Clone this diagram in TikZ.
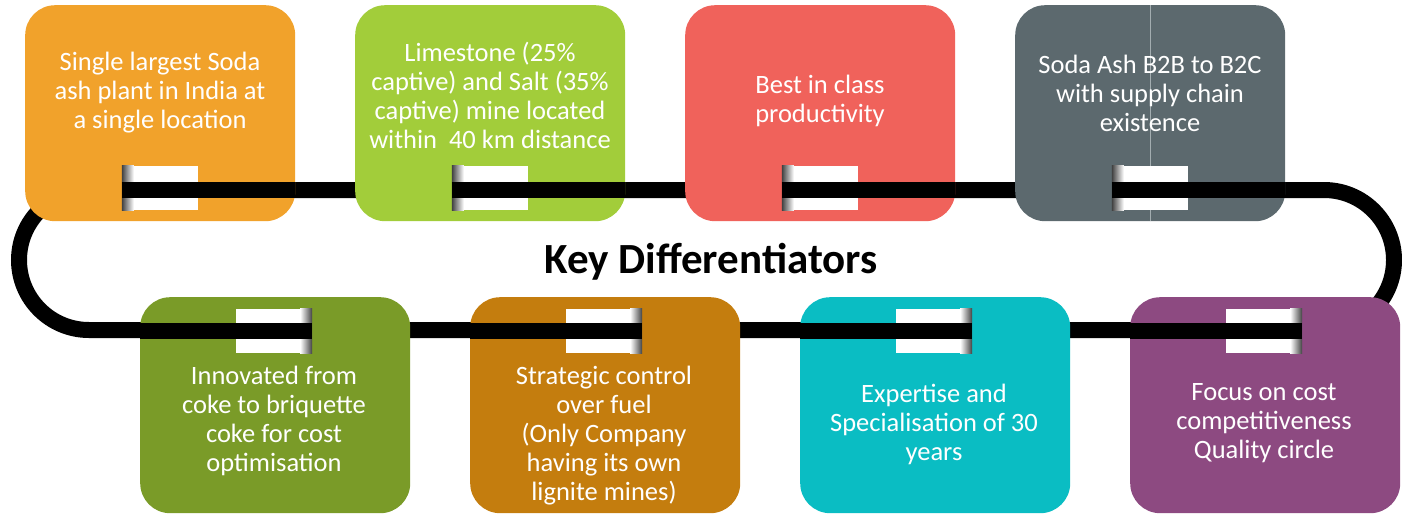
\documentclass[tikz,border=0pt]{standalone}
\usepackage{fontspec}
\setmainfont{Carlito}
\definecolor{cOrange}{HTML}{F1A22B}
\definecolor{cLime}{HTML}{A2CD3A}
\definecolor{cRed}{HTML}{F0625B}
\definecolor{cGray}{HTML}{5C696E}
\definecolor{cOlive}{HTML}{7A9B28}
\definecolor{cBrown}{HTML}{C47D0E}
\definecolor{cTeal}{HTML}{0ABDC3}
\definecolor{cPurple}{HTML}{8D4A81}
\definecolor{cSeam}{HTML}{A3ADB0}
\begin{document}
\begin{tikzpicture}[x=1pt,y=-1pt,
  card/.style={fill=#1, draw=none, rounded corners=30pt, minimum width=270pt, minimum height=216pt, inner sep=0pt, anchor=north west},
  slot/.style={fill=white, draw=none, minimum width=76pt, minimum height=44pt, inner sep=0pt},
  track/.style={draw=black, line width=16pt},
  txt/.style={text=white, align=center, font=\fontsize{26.5}{29}\selectfont, inner sep=0pt}
]
\useasboundingbox (0,0) rectangle (1402,515);
% base track
\draw[track, rounded corners=70pt] (19,190) rectangle (1394,330);

% ---- top row ----
\node[card=cOrange] (b1) at (25,5) {};
\node[card=cLime]   (b2) at (355,5) {};
\node[card=cRed]    (b3) at (685,5) {};
\node[card=cGray]   (b4) at (1015,5) {};
\draw[cSeam, line width=1pt] (b4.north -| 1150,0) -- (b4.south -| 1150,0);

\foreach \i/\x in {1/160,2/490,3/820,4/1150}{
  \node[slot] (s\i) at (\x,188) {};
  \shade[left color=black!75, right color=white] (s\i.north west) rectangle ([xshift=12pt]s\i.south west);
}
\draw[track] ([yshift=-2pt]s1.west) -- ([yshift=-2pt]s1.west -| b1.east);
\draw[track] ([yshift=-2pt]s2.west) -- ([yshift=-2pt]s2.west -| b2.east);
\draw[track] ([yshift=-2pt]s3.west) -- ([yshift=-2pt]s3.west -| b3.east);
\draw[track] ([yshift=-2pt]s4.west) -- ([yshift=-2pt]s4.west -| b4.east);

% ---- bottom row ----
\node[card=cOlive]  (b5) at (140,297) {};
\node[card=cBrown]  (b6) at (470,297) {};
\node[card=cTeal]   (b7) at (800,297) {};
\node[card=cPurple] (b8) at (1130,297) {};

\foreach \i/\x in {5/274,6/604,7/934,8/1264}{
  \node[slot] (s\i) at (\x,331) {};
  \shade[left color=white, right color=black!75] ([xshift=-12pt]s\i.north east) rectangle (s\i.south east);
}
\draw[track] (s5.east -| b5.west) -- (s5.east);
\draw[track] (s6.east -| b6.west) -- (s6.east);
\draw[track] (s7.east -| b7.west) -- (s7.east);
\draw[track] (s8.east -| b8.west) -- (s8.east);

% ---- texts ----
\node[txt] (t1) at (160,93) {Single largest Soda\\ash plant in India at\\a single location};
\node[txt] (t2) at (490,95) {Limestone (25\%\\captive) and Salt (35\%\\captive) mine located\\within\ \ 40 km distance};
\node[txt] (t3) at (820,101) {Best in class\\productivity};
\node[txt] (t4) at (1150,93) {Soda Ash B2B to B2C\\with supply chain\\existence};
\node[txt] (t5) at (274,421) {Innovated from\\coke to briquette\\coke for cost\\optimisation};
\node[txt] (t6) at (604,436) {Strategic control\\over fuel\\(Only Company\\having its own\\lignite mines)};
\node[txt] (t7) at (934,424) {Expertise and\\Specialisation of 30\\years};
\node[txt] (t8) at (1264,423) {Focus on cost\\competitiveness\\Quality circle};

\node[font=\fontsize{43}{48}\selectfont\bfseries, inner sep=0pt] (title) at (711,262) {Key Differentiators};
\end{tikzpicture}
\end{document}
